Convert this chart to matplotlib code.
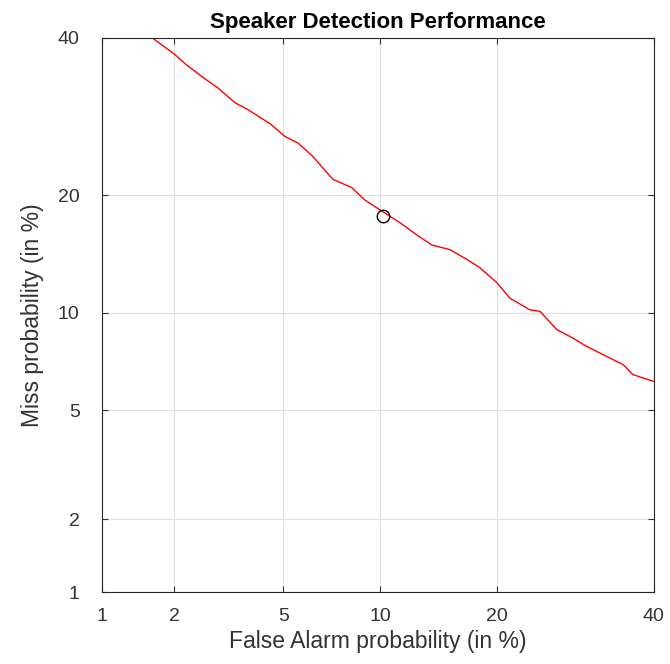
import numpy as np
import matplotlib
matplotlib.use("Agg")
import matplotlib.pyplot as plt
from matplotlib.ticker import FixedLocator, FixedFormatter, NullLocator
from statistics import NormalDist

# DET curve, values in percent
false_alarm = [1.63, 2.01, 2.22, 2.65, 2.93, 3.39, 3.77, 4.54, 5.06, 5.59, 6.25,
               7.23, 8.26, 9.03, 9.99, 11.37, 12.64, 13.85, 15.4, 17.0, 18.2,
               20.0, 21.35, 23.6, 24.8, 26.8, 28.5, 30.7, 32.8, 35.6, 37.0, 40.0]
miss = [40.0, 37.6, 36.2, 34.1, 33.0, 31.0, 30.1, 28.2, 26.7, 25.9, 24.3,
        21.7, 20.8, 19.5, 18.5, 17.25, 16.1, 15.2, 14.8, 13.95, 13.3,
        12.1, 11.0, 10.2, 10.1, 8.95, 8.53, 7.96, 7.53, 7.01, 6.52, 6.2]

# operating point
op_fa = [10.2]
op_miss = [17.9]

ticks = [1, 2, 5, 10, 20, 40]
tick_labels = ['1', '2', '5', '10', '20', '40']

_nd = NormalDist()
_ppf = np.vectorize(_nd.inv_cdf, otypes=[float])
_cdf = np.vectorize(_nd.cdf, otypes=[float])


def probit(p):
    p = np.clip(np.asarray(p, dtype=float) / 100.0, 1e-9, 1 - 1e-9)
    return _ppf(p)


def inv_probit(z):
    return _cdf(np.asarray(z, dtype=float)) * 100.0


plt.rcParams['font.family'] = ['Liberation Sans', 'DejaVu Sans']

fig = plt.figure(figsize=(6.7, 6.64), dpi=100)
ax = fig.add_axes([0.152, 0.108, 0.824, 0.835])

ax.set_xscale('function', functions=(probit, inv_probit))
ax.set_yscale('function', functions=(probit, inv_probit))

ax.plot(false_alarm, miss, color='#ff0000', lw=1.0)
ax.plot(op_fa, op_miss, 'o', mfc='none', mec='black', ms=9, mew=1.0)

ax.set_xlim(1, 40)
ax.set_ylim(1, 40)
for axis in (ax.xaxis, ax.yaxis):
    axis.set_major_locator(FixedLocator(ticks))
    axis.set_major_formatter(FixedFormatter(tick_labels))
    axis.set_minor_locator(NullLocator())

ax.grid(True, color='#e0e0e0', lw=0.8)
ax.set_axisbelow(True)
ax.tick_params(direction='in', length=4, top=True, right=True,
               labelsize=14, colors='#333333')
ax.tick_params(axis='x', pad=11)
ax.tick_params(axis='y', pad=16)
for s in ax.spines.values():
    s.set_color('#262626')
    s.set_linewidth(0.8)

ax.set_xlabel('False Alarm probability (in %)', fontsize=16.5,
              color='#333333', labelpad=4)
ax.set_ylabel('Miss probability (in %)', fontsize=16.5,
              color='#333333', labelpad=10)
ax.set_title('Speaker Detection Performance', fontsize=16,
             fontweight='bold', pad=7)

fig.savefig('out.png', dpi=100)
